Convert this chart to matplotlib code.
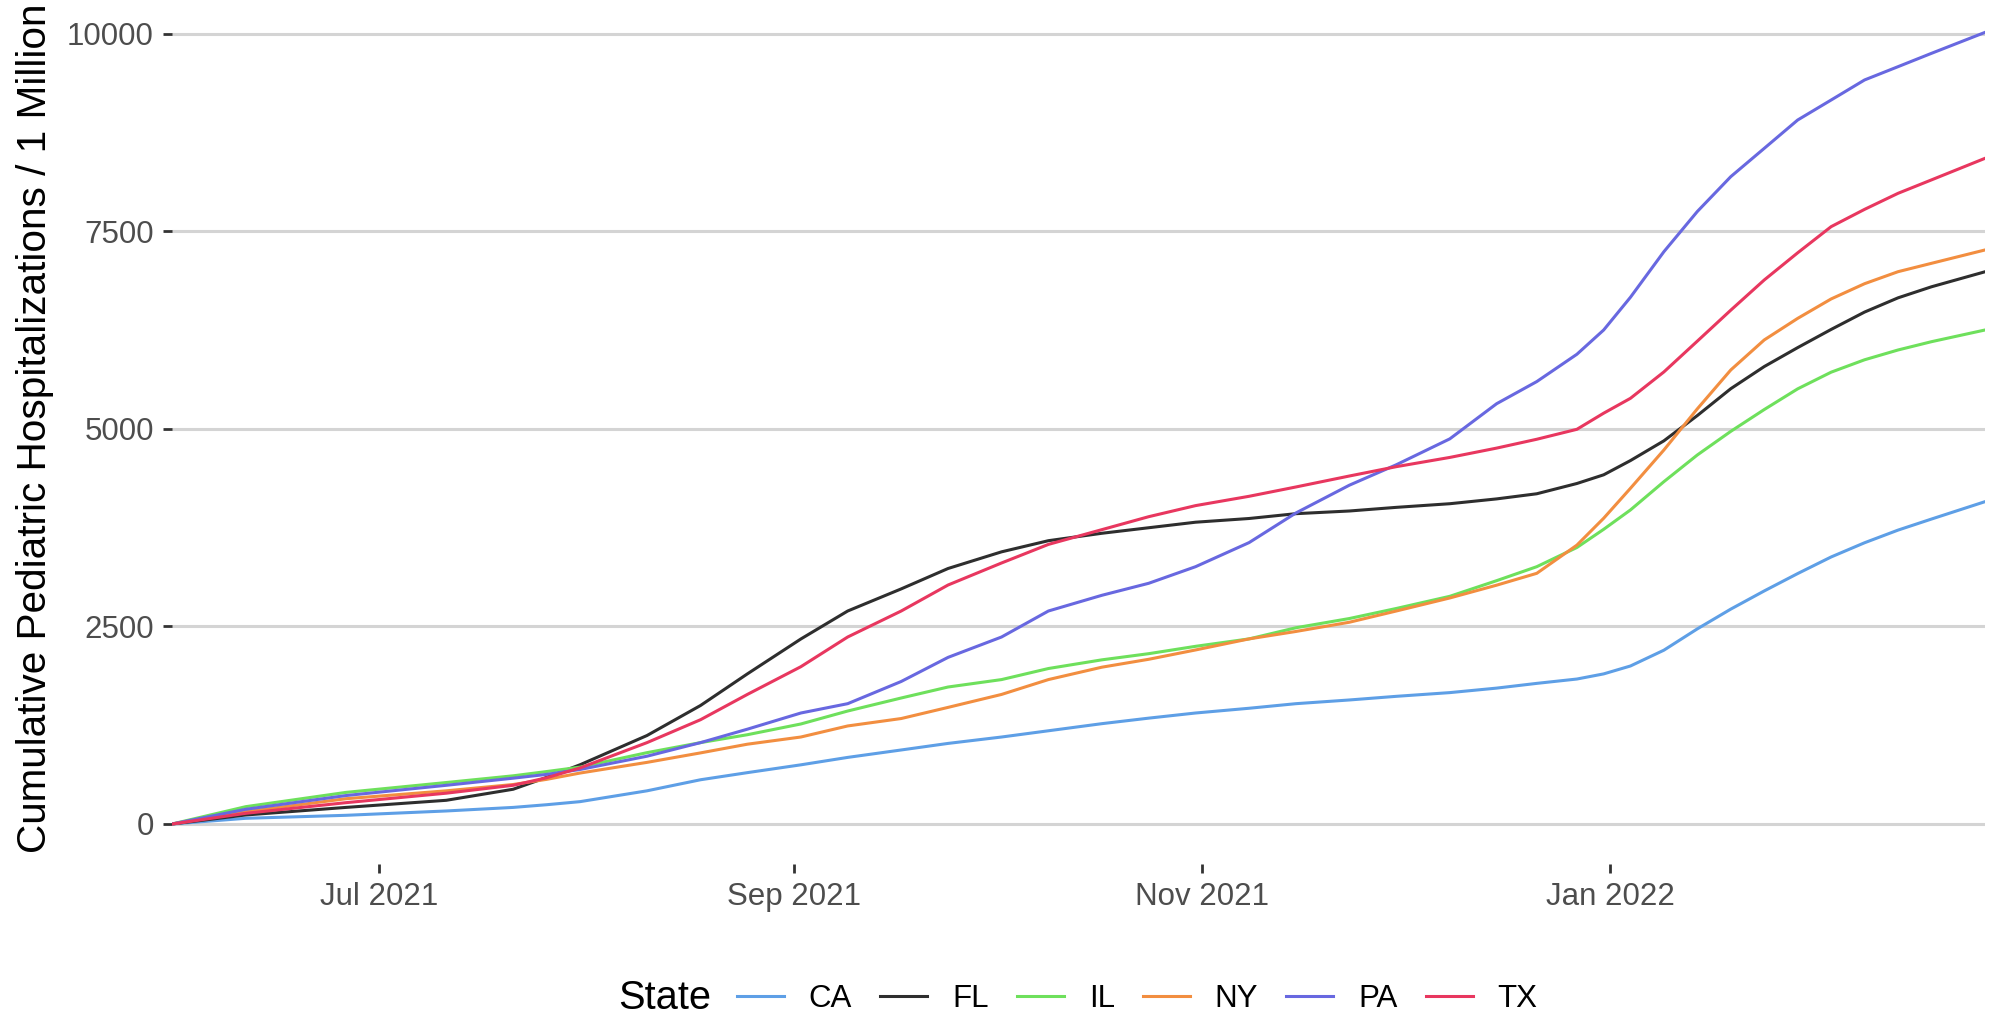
import numpy as np
import pandas as pd
import matplotlib
matplotlib.use("Agg")
import matplotlib.pyplot as plt
import matplotlib.dates as mdates
from matplotlib.lines import Line2D

plt.rcParams['font.family'] = ['Liberation Sans', 'DejaVu Sans']

# ---- data ----
start_date = "2021-05-31"
day_offsets = [0, 11, 26, 41, 51, 56, 61, 71, 79, 86, 94, 101, 109, 116, 124, 131, 139,
               146, 153, 161, 168, 176, 183, 191, 198, 204, 210, 214, 218, 223, 228,
               233, 238, 243, 248, 253, 258, 263, 271]

states = ["CA", "FL", "IL", "NY", "PA", "TX"]

ca = [0, 72, 110, 165, 210, 244, 283, 420, 560, 650, 749, 843, 937, 1020, 1101, 1180, 1270,
      1340, 1405, 1465, 1523, 1570, 1616, 1663, 1720, 1780, 1835, 1900, 2000, 2200, 2470,
      2720, 2950, 3170, 3380, 3560, 3720, 3860, 4080]
fl = [0, 114, 210, 300, 440, 590, 750, 1120, 1500, 1900, 2342, 2696, 2976, 3234, 3445, 3586, 3680,
      3750, 3820, 3867, 3928, 3962, 4008, 4054, 4115, 4180, 4310, 4420, 4600, 4850, 5170,
      5510, 5790, 6030, 6260, 6480, 6660, 6800, 6990]
il = [0, 219, 400, 525, 610, 664, 720, 903, 1030, 1130, 1266, 1430, 1595, 1734, 1828, 1968, 2078,
      2156, 2249, 2343, 2484, 2601, 2728, 2882, 3080, 3257, 3500, 3730, 3975, 4333, 4671,
      4970, 5246, 5508, 5719, 5876, 6000, 6105, 6253]
ny = [0, 156, 320, 420, 500, 565, 645, 780, 900, 1010, 1101, 1241, 1335, 1476, 1640, 1828, 1985,
      2085, 2203, 2343, 2437, 2554, 2696, 2861, 3023, 3173, 3530, 3870, 4249, 4734, 5255,
      5747, 6127, 6400, 6646, 6839, 6991, 7097, 7266]
pa = [0, 186, 360, 490, 580, 628, 690, 858, 1030, 1200, 1405, 1523, 1804, 2109, 2367, 2696, 2895,
      3047, 3257, 3562, 3937, 4289, 4547, 4875, 5320, 5600, 5946, 6253, 6667, 7244, 7753,
      8194, 8552, 8911, 9164, 9418, 9586, 9755, 10020]
tx = [0, 135, 270, 390, 490, 585, 710, 1030, 1320, 1640, 1991, 2367, 2696, 3025, 3304, 3539, 3726,
      3890, 4030, 4148, 4266, 4405, 4523, 4640, 4758, 4870, 4996, 5200, 5388, 5722, 6112,
      6504, 6886, 7230, 7561, 7780, 7983, 8153, 8426]

colors = ["#5E9FE6", "#2E2E2E", "#6EE05C", "#F28E40", "#6868E0", "#E8375F"]

y_ticks = [0, 2500, 5000, 7500, 10000]
x_tick_dates = ["2021-07-01", "2021-09-01", "2021-11-01", "2022-01-01"]

# ---- figure ----
W, H = 2002, 1014
fig = plt.figure(figsize=(W / 100, H / 100), dpi=100)
fig.patch.set_facecolor("white")

ax = fig.add_axes([172 / W, (H - 863.5) / H, 1813 / W, 863.5 / H])
dates = pd.Timestamp(start_date) + pd.to_timedelta(day_offsets, unit="D")

series = [ca, fl, il, ny, pa, tx]
for name, vals, col in zip(states, series, colors):
    ax.plot(dates, vals, color=col, lw=2.2, solid_joinstyle="round", label=name)

ax.set_xlim(dates[0], dates[-1])
ax.set_ylim(-500, 10430)

ax.set_yticks(y_ticks)
ax.set_yticklabels([str(v) for v in y_ticks])
ax.set_xticks(pd.to_datetime(x_tick_dates))
ax.xaxis.set_major_formatter(mdates.DateFormatter("%b %Y"))

for s in ax.spines.values():
    s.set_visible(False)
ax.set_facecolor("white")
ax.yaxis.grid(True, color="#D4D4D4", lw=2.2)
ax.xaxis.grid(False)
ax.set_axisbelow(True)
ax.tick_params(axis="both", length=6.5, width=2.0, color="#333333",
               labelsize=22.5, labelcolor="#4D4D4D", pad=6.5)

fig.text(46 / W, (H - 428) / H, "Cumulative Pediatric Hospitalizations / 1 Million",
         rotation=90, rotation_mode="anchor", ha="center", va="baseline",
         fontsize=29.2, color="black")

# legend
handles = [Line2D([], [], color=c, lw=2.2) for c in colors]
fig.legend(handles, states, loc="center left", bbox_to_anchor=(737 / W, (H - 999) / H),
           ncol=6, frameon=False, fontsize=22.5, handlelength=1.5, handletextpad=0.8,
           columnspacing=0.9, borderpad=0, borderaxespad=0)
fig.text(618 / W, (H - 1009) / H, "State", ha="left", va="baseline", fontsize=28.6,
         color="black")

fig.savefig("out.png", dpi=100, facecolor="white")
